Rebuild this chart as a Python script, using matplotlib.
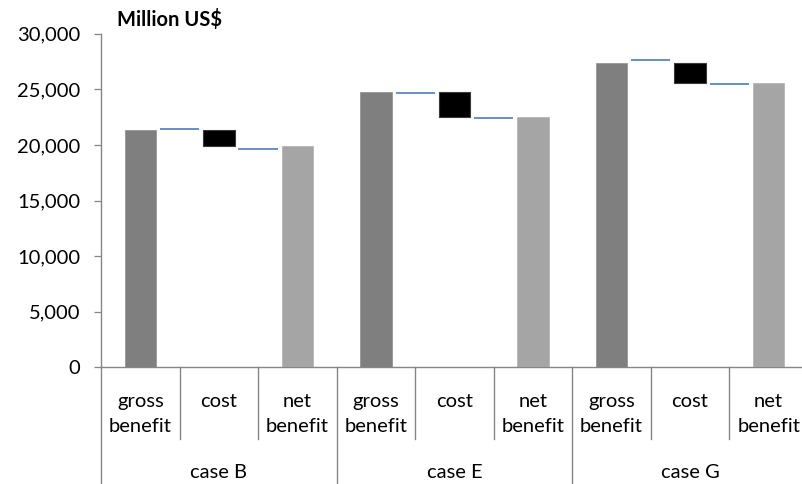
import matplotlib
matplotlib.use("Agg")
import matplotlib.pyplot as plt
import matplotlib.transforms as mtransforms
from matplotlib.ticker import FuncFormatter

# Waterfall data (Million US$)
cases = ["case B", "case E", "case G"]
items = ["gross\nbenefit", "cost", "net\nbenefit"]
gross_benefit = [21300, 24750, 27400]
cost = [1400, 2200, 1850]
net_benefit = [19900, 22550, 25550]
# connector levels: gross -> cost, cost -> net
link_gross_cost = [21400, 24670, 27630]
link_cost_net = [19650, 22450, 25450]
y_ticks = [0, 5000, 10000, 15000, 20000, 25000, 30000]

FONT = "Lato"
AXIS_GRAY = "#868686"
C_GROSS = "#7F7F7F"
C_NET = "#A5A5A5"
C_COST = "#000000"
C_LINK = "#4A7EBB"

W, H = 802, 484
fig = plt.figure(figsize=(W / 100, H / 100), dpi=100)
fig.patch.set_facecolor("white")

x0, y0 = 101, 367.3          # axes origin in pixels
cat_w = 78.54                # category width in pixels
ax_h = 333.6
ax = fig.add_axes([x0 / W, (H - y0) / H, 9 * cat_w / W, ax_h / H])

n_items = len(items)
bar_w = 0.4
for c in range(len(cases)):
    base = c * n_items
    ax.bar(base, gross_benefit[c], width=bar_w, color=C_GROSS,
           edgecolor="#8C8C8C", linewidth=0.5, zorder=3)
    ax.bar(base + 1, cost[c], bottom=gross_benefit[c] - cost[c], width=bar_w,
           color=C_COST, edgecolor="#3A3A3A", linewidth=0.8, zorder=3)
    ax.bar(base + 2, net_benefit[c], width=bar_w, color=C_NET,
           edgecolor="#AFAFAF", linewidth=0.5, zorder=3)
    ax.hlines(link_gross_cost[c], base + 0.25, base + 0.75, color=C_LINK,
              linewidth=1.2, zorder=4)
    ax.hlines(link_cost_net[c], base + 1.25, base + 1.75, color=C_LINK,
              linewidth=1.2, zorder=4)

ax.set_xlim(-0.5, 9 * 1 - 0.5)
ax.set_ylim(0, 30000)
ax.set_yticks(y_ticks)
ax.yaxis.set_major_formatter(FuncFormatter(lambda v, p: f"{int(v):,}"))
ax.set_xticks([])

for s in ("top", "right"):
    ax.spines[s].set_visible(False)
for s in ("left", "bottom"):
    ax.spines[s].set_color(AXIS_GRAY)
    ax.spines[s].set_linewidth(1.0)

ax.tick_params(axis="y", direction="out", length=5, width=0.9,
               color=AXIS_GRAY, pad=10, labelsize=14.5, labelcolor="black")
for lbl in ax.get_yticklabels():
    lbl.set_fontfamily(FONT)

# multi-level category axis below the plot
tr = mtransforms.blended_transform_factory(ax.transData, ax.transAxes)
px = 1.0 / ax_h
for k in range(len(cases) * n_items + 1):
    xb = k - 0.5
    depth = (H - y0 - 1) * px if k % n_items == 0 else 71.7 * px
    ax.plot([xb, xb], [0, -depth], transform=tr, color=AXIS_GRAY,
            linewidth=1.0, clip_on=False, zorder=1)

line_base = [39.4 * px, 65.0 * px]
for c, case in enumerate(cases):
    for i, item in enumerate(items):
        xc = c * n_items + i
        for j, part in enumerate(item.split("\n")):
            ax.text(xc, -line_base[j], part, transform=tr, ha="center",
                    va="baseline", fontsize=14.5, family=FONT, color="black")
    ax.text(c * n_items + 1, -111.0 * px, case, transform=tr, ha="center",
            va="baseline", fontsize=14.5, family=FONT, color="black")

fig.text(117 / W, 1 - 26 / H, "Million US$", ha="left", va="baseline",
         fontsize=14.5, fontweight="bold", family=FONT, color="black")

fig.savefig("out.png", dpi=100)
